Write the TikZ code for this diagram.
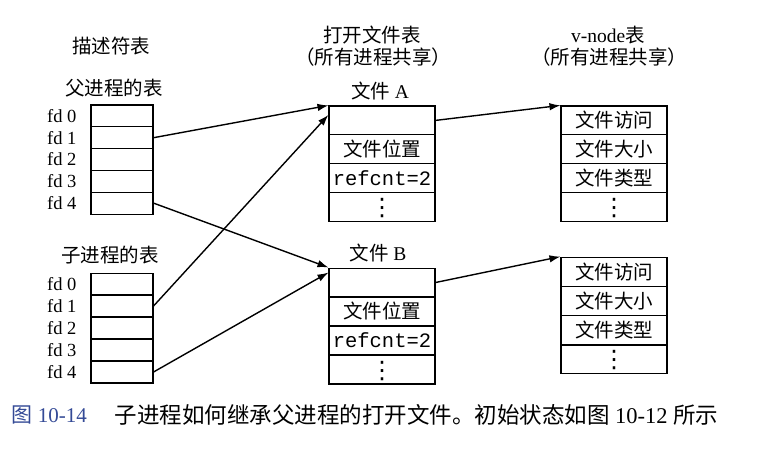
\documentclass[tikz,border=0pt]{standalone}
\usepackage{xcolor}
\usepackage{fontspec}
\usetikzlibrary{arrows.meta}
\setmainfont{Liberation Serif}
\setmonofont{Liberation Mono}
\newfontfamily\cjk{Noto Sans CJK SC}
\newfontfamily\symfont{DejaVu Sans}
\definecolor{capblue}{RGB}{52,74,150}
\begin{document}
\begin{tikzpicture}[x=1pt,y=-1pt,
    font=\fontsize{19.5}{21}\selectfont,
    fdcell/.style={rectangle, draw, line width=1.1pt, minimum width=62pt, minimum height=21.9pt, inner sep=0pt},
    filecell/.style={rectangle, draw, line width=1.1pt, minimum width=106pt, minimum height=28.9pt, inner sep=0pt},
    fdlabel/.style={anchor=east, font=\fontsize{18.5}{20}\selectfont},
    dots/.style={font=\symfont\fontsize{24}{24}\selectfont, text height=17pt, text depth=0pt},
    ptr/.style={line width=1.4pt, -{Latex[length=11pt,width=7.5pt]}}
    ]
    \useasboundingbox (0,0) rectangle (761,448);
    \node (title) at (111,46) {\cjk 描述符表};
    \node (ptitle) at (114,88) {\cjk 父进程的表};
    \node (ctitle) at (110,255) {\cjk 子进程的表};
    \foreach \i in {0,...,4} {
      \node[fdcell] (p\i) at (122,115.9+21.8*\i) {};
      \node[fdlabel] (pl\i) at (80,115.9+21.8*\i) {fd \i};
      \node[fdcell] (c\i) at (122,284+22*\i) {};
      \node[fdlabel] (cl\i) at (80,284+22*\i) {fd \i};
    }
    \node (otitle) at (372,35) {\cjk 打开文件表};
    \node (oshare) at (373,57) {\cjk （所有进程共享）};
    \node (vtitle) at (608,35) {v-node{\cjk 表}};
    \node (vshare) at (609,57) {\cjk （所有进程共享）};
    \node (fAname) at (380,91) {{\cjk 文件} A};
    \node (fBname) at (378,253) {{\cjk 文件} B};
    \node[filecell] (fA0) at (382,120.4) {};
    \node[filecell] (fA1) at (382,149.1) {\cjk 文件位置};
    \node[filecell] (fA2) at (382,177.9) {\ttfamily\fontsize{20.5}{21}\selectfont refcnt=2};
    \node[filecell, dots] (fA3) at (382,206.6) {⋮};
    \node[filecell] (fB0) at (382,282.5) {};
    \node[filecell] (fB1) at (382,311.5) {\cjk 文件位置};
    \node[filecell] (fB2) at (382,340.5) {\ttfamily\fontsize{20.5}{21}\selectfont refcnt=2};
    \node[filecell, dots] (fB3) at (382,369.5) {⋮};
    \node[filecell] (vA0) at (614,120.4) {\cjk 文件访问};
    \node[filecell] (vA1) at (614,149.1) {\cjk 文件大小};
    \node[filecell] (vA2) at (614,177.9) {\cjk 文件类型};
    \node[filecell, dots] (vA3) at (614,206.6) {⋮};
    \node[filecell] (vB0) at (614,271.6) {\cjk 文件访问};
    \node[filecell] (vB1) at (614,300.9) {\cjk 文件大小};
    \node[filecell] (vB2) at (614,330.1) {\cjk 文件类型};
    \node[filecell, dots] (vB3) at (614,359.4) {⋮};
    \draw[ptr] (p1.east) -- (fA0.north west);
    \draw[ptr] (c1.east) -- ([yshift=5.5pt]fA0.west);
    \draw[ptr] (p4.east) -- (fB0.north west);
    \draw[ptr] (c4.east) -- ([yshift=-5pt]fB0.north west);
    \draw[ptr] (fA0.east) -- (vA0.north west);
    \draw[ptr] (fB0.east) -- (vB0.north west);
    \node[anchor=west, text=capblue, font=\fontsize{21}{22}\selectfont] (capno) at (8,415) {{\cjk 图} 10-14};
    \node[anchor=west, font=\fontsize{22.5}{23}\selectfont] (caption) at (111,415) {{\cjk 子进程如何继承父进程的打开文件。初始状态如图} 10-12 {\cjk 所示}};
\end{tikzpicture}
\end{document}
